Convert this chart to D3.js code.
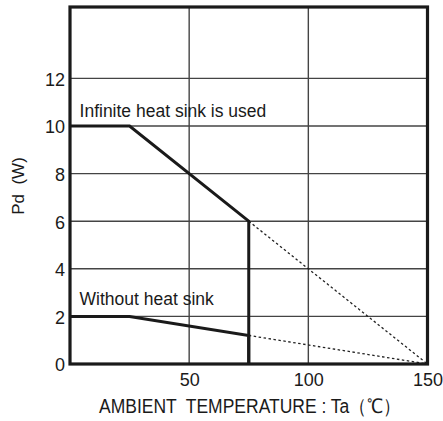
<!DOCTYPE html>
<html><head><meta charset="utf-8">
<script src="https://cdn.jsdelivr.net/npm/d3@7"></script>
<style>body{margin:0;background:#fff}svg{display:block}text{font-family:"Liberation Sans",Arial,sans-serif;fill:#1a1a1a}</style>
</head><body>
<script>
const xTicks = [50, 100, 150];
const yTicks = [0, 2, 4, 6, 8, 10, 12];
const infiniteSolid = [[0, 10], [25, 10], [75, 6], [75, 0]];
const infiniteDotted = [[75, 6], [150, 0]];
const withoutSolid = [[0, 2], [25, 2], [75, 1.2], [75, 0]];
const withoutDotted = [[75, 1.2], [150, 0]];
const labels = ["Infinite heat sink is used", "Without heat sink"];

const W = 443, H = 421;
const m = {l: 70, r: 15.5, t: 7, b: 57};
const svg = d3.select("body").append("svg").attr("width", W).attr("height", H);
const x = d3.scaleLinear().domain([0, 150]).range([m.l, W - m.r]);
const y = d3.scaleLinear().domain([0, 15]).range([H - m.b, m.t]);
const g = svg.append("g");

// grid
g.selectAll(".hg").data([2,4,6,8,10,12]).join("line")
  .attr("x1", x(0)).attr("x2", x(150)).attr("y1", d => y(d)).attr("y2", d => y(d))
  .attr("stroke", "#444").attr("stroke-width", 1.4);
g.selectAll(".vg").data([50, 100]).join("line")
  .attr("y1", y(0)).attr("y2", y(15)).attr("x1", d => x(d)).attr("x2", d => x(d))
  .attr("stroke", "#444").attr("stroke-width", 1.4);

const line = d3.line().x(d => x(d[0])).y(d => y(d[1]));
[infiniteDotted, withoutDotted].forEach(dd => g.append("path").attr("d", line(dd))
  .attr("fill", "none").attr("stroke", "#222").attr("stroke-width", 1.3).attr("stroke-dasharray", "2.5,2.5"));
[infiniteSolid, withoutSolid].forEach(dd => g.append("path").attr("d", line(dd))
  .attr("fill", "none").attr("stroke", "#1a1a1a").attr("stroke-width", 3).attr("stroke-linejoin", "miter"));

// frame
g.append("rect").attr("x", x(0)).attr("y", y(15)).attr("width", x(150) - x(0)).attr("height", y(0) - y(15))
  .attr("fill", "none").attr("stroke", "#1a1a1a").attr("stroke-width", 3.2);

// axes
const yAxis = d3.axisLeft(y).tickValues(yTicks).tickSize(0).tickPadding(5);
const ya = svg.append("g").attr("transform", `translate(${x(0)},0)`).call(yAxis);
ya.select(".domain").remove();
ya.selectAll("text").attr("font-size", 18).attr("font-family", "Liberation Sans, Arial, sans-serif").attr("fill", "#1a1a1a").attr("dy", "0.38em");
const xAxis = d3.axisBottom(x).tickValues(xTicks).tickSize(0).tickPadding(9);
const xa = svg.append("g").attr("transform", `translate(0,${y(0)})`).call(xAxis);
xa.select(".domain").remove();
xa.selectAll("text").attr("font-size", 18).attr("font-family", "Liberation Sans, Arial, sans-serif").attr("fill", "#1a1a1a");

// labels
svg.append("text").attr("x", x(4)).attr("y", y(10) - 9).attr("font-size", 17.5).text(labels[0]);
svg.append("text").attr("x", x(4)).attr("y", y(2) - 11).attr("font-size", 17.5).text(labels[1]);
svg.append("text").attr("transform", `translate(24,186) rotate(-90)`)
  .attr("text-anchor", "middle").attr("font-size", 17).attr("xml:space", "preserve").text("Pd  (W)");
svg.append("text").attr("x", 99).attr("y", 413).attr("font-size", 20)
  .attr("textLength", 301).attr("lengthAdjust", "spacingAndGlyphs")
  .attr("xml:space", "preserve").text("AMBIENT  TEMPERATURE : Ta（℃）");
</script>
</body></html>
